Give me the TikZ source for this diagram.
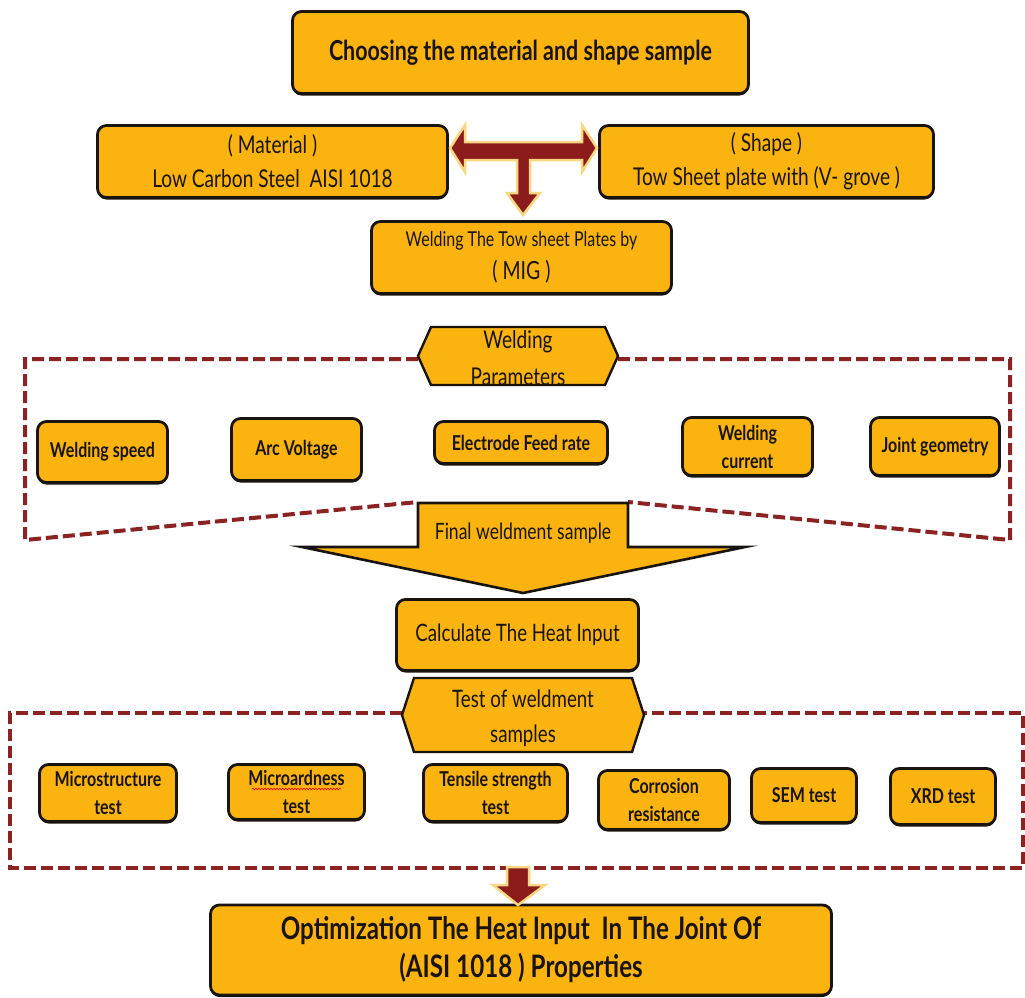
\documentclass[tikz,border=0pt]{standalone}
\usepackage{fontspec}
\setmainfont{Lato}[FakeStretch=0.78]
\usetikzlibrary{shadows,decorations.pathmorphing}
\definecolor{boxfill}{RGB}{251,180,15}
\definecolor{arrowred}{RGB}{140,28,28}
\definecolor{dashred}{RGB}{139,35,35}
\definecolor{glow}{RGB}{250,215,130}
\definecolor{ink}{RGB}{25,20,15}
\begin{document}
\begin{tikzpicture}[x=1pt,y=-1pt,
  box/.style={draw=ink, line width=2.8pt, fill=boxfill, rounded corners=9pt, align=center, inner sep=2pt, text=ink,
    drop shadow={shadow xshift=0pt, shadow yshift=-2pt, fill=ink, opacity=1}},
  hexa/.style={draw=ink, line width=2.4pt, fill=boxfill, line join=miter},
  frame/.style={draw=dashred, line width=4pt, dash pattern=on 12pt off 5pt},
  redarrow/.style={fill=arrowred, draw=glow, line width=2.5pt, line join=miter},
  bigarrow/.style={fill=boxfill, draw=ink, line width=2.6pt, line join=miter},
  txt/.style={align=center, text=ink, inner sep=0pt},
  title/.style={font=\bfseries\fontsize{27.5}{32}\selectfont},
  med/.style={font=\fontsize{24.5}{34}\selectfont},
  par/.style={font=\bfseries\fontsize{20.5}{28}\selectfont},
]
\useasboundingbox (0,0) rectangle (1025,997);
\fill[white] (0,0) rectangle (1025,997);

% ---- dashed frames
\draw[frame] (418,359) -- (25,359) -- (25,540) -- (418,502);
\draw[frame] (618,359) -- (1010,359) -- (1010,540) -- (628,502);
\draw[frame] (402,713) -- (10,713) -- (10,868) -- (1023,868) -- (1023,713) -- (644,713);

% ---- top part
\node[box, title, minimum width=456pt, minimum height=82pt] (top) at (520.5,52.5) {Choosing the material and shape sample};
\node[box, med, minimum width=350pt, minimum height=72pt] (mat) at (272.5,161.5) {( Material )\\Low Carbon Steel \ AISI 1018};
\node[box, med, minimum width=334pt, minimum height=72pt] (shape) at (766.5,161.5) {( Shape )\\Tow Sheet plate with (V- grove )};
\node[box, minimum width=300pt, minimum height=72pt, font=\fontsize{20.5}{33}\selectfont] (mig) at (521.5,257.5) {Welding The Tow sheet Plates by\\{\fontsize{25}{33}\selectfont ( MIG )}};

% T-shaped double arrow
\draw[redarrow] (450,148) -- (465,125) -- (465,142) -- (582,142) -- (582,125) -- (597,148) -- (582,172) -- (582,160)
  -- (530,160) -- (530,193) -- (540,193) -- (523,215) -- (507,193) -- (517,193) -- (517,160)
  -- (465,160) -- (465,172) -- cycle;

% ---- welding parameters
\draw[hexa] (418,356) -- (431,327) -- (605,327) -- (618,356) -- (605,385) -- (431,385) -- cycle;
\node[txt, font=\fontsize{24.5}{37}\selectfont] (wp) at (518,358) {Welding\\Parameters};

\node[box, par, minimum width=130pt, minimum height=61pt] (ws) at (102.5,452) {Welding speed};
\node[box, par, minimum width=130pt, minimum height=62pt] (av) at (296.5,449.5) {Arc Voltage};
\node[box, par, minimum width=173pt, minimum height=42pt] (ef) at (521,442.5) {Electrode Feed rate};
\node[box, par, minimum width=130pt, minimum height=58pt] (wc) at (747.5,446.5) {Welding\\current};
\node[box, par, minimum width=129pt, minimum height=58pt] (jg) at (935,446.5) {Joint geometry};

% ---- final weldment sample arrow
\draw[bigarrow] (418,503) -- (628,503) -- (628,547) -- (745,547) -- (523,593) -- (302,547) -- (418,547) -- cycle;
\node[txt, font=\fontsize{22.5}{26}\selectfont] (fws) at (523,533) {Final weldment sample};

\node[box, font=\fontsize{24}{28}\selectfont, minimum width=242pt, minimum height=71pt] (calc) at (517.5,635) {Calculate The Heat Input};

% ---- tests
\draw[hexa] (402,715) -- (414,678) -- (632,678) -- (644,715) -- (632,752) -- (414,752) -- cycle;
\node[txt, font=\fontsize{24}{35}\selectfont] (tws) at (523,718) {Test of weldment\\samples};

\node[box, par, minimum width=137pt, minimum height=57pt] (ms) at (108,793) {Microstructure\\test};
\node[box, par, minimum width=136pt, minimum height=55pt] (ma) at (296.5,792) {Microardness\\test};
\draw[red, line width=0.6pt, decorate, decoration={snake, amplitude=0.8pt, segment length=3pt}] (252,789) -- (341,789);
\node[box, par, minimum width=144pt, minimum height=57pt] (ts) at (495.5,793) {Tensile strength\\test};
\node[box, par, minimum width=131pt, minimum height=59pt] (cr) at (664,800) {Corrosion\\resistance};
\node[box, par, minimum width=105pt, minimum height=54pt] (sem) at (804,795.5) {SEM test};
\node[box, par, minimum width=105pt, minimum height=56pt] (xrd) at (943,796.5) {XRD test};

% ---- bottom
\node[box, font=\bfseries\fontsize{31}{38}\selectfont, minimum width=621pt, minimum height=90pt] (opt) at (521,950) {Optimization The Heat Input \ In The Joint Of\\(AISI 1018 ) Properties};
\draw[redarrow] (507,867) -- (529,867) -- (529,885) -- (545,885) -- (518,905) -- (493,885) -- (507,885) -- cycle;
\end{tikzpicture}
\end{document}
